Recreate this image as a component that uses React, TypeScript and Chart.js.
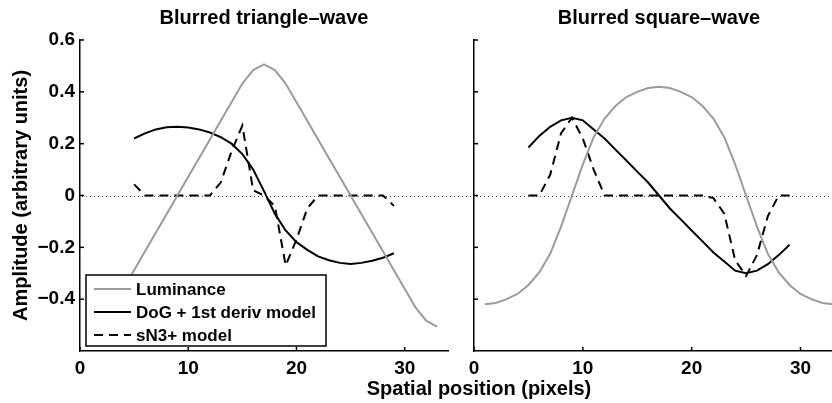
import React, { useEffect, useRef } from 'react';
import { Chart, registerables } from 'chart.js';

Chart.register(...registerables);

// ---------- data ----------
const lumPositions = [1, 2, 3, 4, 5, 6, 7, 8, 9, 10, 11, 12, 13, 14, 15, 16, 17, 18, 19, 20, 21, 22, 23, 24, 25, 26, 27, 28, 29, 30, 31, 32, 33];
const modelPositions = [5, 6, 7, 8, 9, 10, 11, 12, 13, 14, 15, 16, 17, 18, 19, 20, 21, 22, 23, 24, 25, 26, 27, 28, 29];

const triLuminance = [-0.506, -0.484, -0.432, -0.36, -0.288, -0.216, -0.144, -0.072, 0, 0.072, 0.144, 0.216, 0.288, 0.36, 0.432, 0.484, 0.506, 0.484, 0.432, 0.36, 0.288, 0.216, 0.144, 0.072, 0, -0.072, -0.144, -0.216, -0.288, -0.36, -0.432, -0.484, -0.506];
const triDoG = [0.22, 0.24, 0.255, 0.263, 0.265, 0.262, 0.255, 0.243, 0.225, 0.2, 0.16, 0.1, 0.017, -0.07, -0.135, -0.18, -0.21, -0.235, -0.25, -0.26, -0.264, -0.26, -0.252, -0.24, -0.223];
const triSN3 = [0.043, 0, 0, 0, 0, 0, 0, 0, 0.05, 0.17, 0.27, 0.02, 0, -0.04, -0.27, -0.17, -0.05, 0, 0, 0, 0, 0, 0, 0, -0.04];

const sqLuminance = [-0.42, -0.415, -0.4, -0.38, -0.345, -0.297, -0.225, -0.12, 0, 0.12, 0.225, 0.297, 0.345, 0.38, 0.4, 0.415, 0.42, 0.415, 0.4, 0.38, 0.345, 0.297, 0.225, 0.12, 0, -0.12, -0.225, -0.297, -0.345, -0.38, -0.4, -0.415, -0.42];
const sqDoG = [0.185, 0.23, 0.265, 0.29, 0.3, 0.29, 0.255, 0.22, 0.177, 0.135, 0.092, 0.05, 0, -0.05, -0.092, -0.135, -0.177, -0.22, -0.255, -0.29, -0.3, -0.29, -0.265, -0.23, -0.19];
const sqSN3 = [0, 0, 0.08, 0.24, 0.3, 0.22, 0.1, 0, 0, 0, 0, 0, 0, 0, 0, 0, 0, -0.01, -0.07, -0.25, -0.31, -0.23, -0.08, 0, 0];

const xTickValues = [0, 10, 20, 30];
const yTickValues = [-0.4, -0.2, 0, 0.2, 0.4, 0.6];
const seriesLabels = ['Luminance', 'DoG + 1st deriv model', 'sN3+ model'];
const panelTitles = ['Blurred triangle\u2013wave', 'Blurred square\u2013wave'];
const xAxisTitle = 'Spatial position (pixels)';
const yAxisTitle = 'Amplitude (arbitrary units)';

// ---------- styles ----------
const FONT = '"Liberation Sans", Arial, Helvetica, sans-serif';
const GRAY = '#9b9b9b';
const DASH = [9, 6];

const pts = (xs: number[], ys: number[]) => xs.map((x, i) => ({ x, y: ys[i] }));

function makeDatasets(lum: number[], dog: number[], sn3: number[]) {
  return [
    { label: seriesLabels[0], data: pts(lumPositions, lum), borderColor: GRAY, borderWidth: 2, pointRadius: 0, tension: 0, fill: false },
    { label: seriesLabels[1], data: pts(modelPositions, dog), borderColor: '#000', borderWidth: 2, pointRadius: 0, tension: 0, fill: false },
    { label: seriesLabels[2], data: pts(modelPositions, sn3), borderColor: '#000', borderWidth: 2, borderDash: DASH, pointRadius: 0, tension: 0, fill: false },
  ];
}

const fmt = (v: any) => {
  const n = Math.round(Number(v) * 10) / 10;
  return n < 0 ? '\u2212' + String(Math.abs(n)) : String(n);
};

function panelPlugin(opts: { title: string; zeroRight: number; legend: boolean; axisTitles: boolean }) {
  return {
    id: 'panelDecor',
    beforeDatasetsDraw(chart: any) {
      const { ctx, chartArea } = chart;
      const y0 = Math.round(chart.scales.y.getPixelForValue(0)) + 0.5;
      ctx.save();
      ctx.strokeStyle = '#444';
      ctx.lineWidth = 1;
      ctx.setLineDash([1, 3]);
      ctx.beginPath();
      ctx.moveTo(chartArea.left + 2, y0);
      ctx.lineTo(opts.zeroRight, y0);
      ctx.stroke();
      ctx.restore();
    },
    afterDatasetsDraw(chart: any) {
      if (!opts.legend) return;
      const { ctx } = chart;
      ctx.save();
      const bx = 86, by = 275, bw = 240, bh = 71;
      ctx.fillStyle = '#fff';
      ctx.fillRect(bx, by, bw, bh);
      ctx.strokeStyle = '#000';
      ctx.lineWidth = 1.5;
      ctx.strokeRect(bx, by, bw, bh);
      ctx.font = `bold 17px ${FONT}`;
      ctx.textBaseline = 'middle';
      ctx.textAlign = 'left';
      chart.data.datasets.forEach((ds: any, i: number) => {
        const yy = by + 14 + i * 23;
        ctx.strokeStyle = ds.borderColor;
        ctx.lineWidth = 2;
        ctx.setLineDash(ds.borderDash || []);
        ctx.beginPath();
        ctx.moveTo(bx + 8, yy);
        ctx.lineTo(bx + 45, yy);
        ctx.stroke();
        ctx.setLineDash([]);
        ctx.fillStyle = '#000';
        ctx.fillText(ds.label, bx + 50, yy + 1);
      });
      ctx.restore();
    },
    afterDraw(chart: any) {
      const { ctx, chartArea } = chart;
      const xs = chart.scales.x, ys = chart.scales.y;
      ctx.save();
      ctx.strokeStyle = '#000';
      ctx.lineWidth = 1.5;
      ys.ticks.forEach((t: any) => {
        const py = ys.getPixelForValue(t.value);
        ctx.beginPath();
        ctx.moveTo(chartArea.left, py);
        ctx.lineTo(chartArea.left + 4, py);
        ctx.stroke();
      });
      xs.ticks.forEach((t: any) => {
        const px = xs.getPixelForValue(t.value);
        ctx.beginPath();
        ctx.moveTo(px, chartArea.bottom);
        ctx.lineTo(px, chartArea.bottom - 4);
        ctx.stroke();
      });
      ctx.fillStyle = '#000';
      ctx.font = `bold 20px ${FONT}`;
      ctx.textAlign = 'center';
      ctx.textBaseline = 'alphabetic';
      ctx.fillText(opts.title, (chartArea.left + chartArea.right) / 2, 24);
      if (opts.axisTitles) {
        ctx.fillText(xAxisTitle, 479, 395);
        ctx.save();
        ctx.translate(27, (chartArea.top + chartArea.bottom) / 2);
        ctx.rotate(-Math.PI / 2);
        ctx.fillText(yAxisTitle, 0, 0);
        ctx.restore();
      }
      ctx.restore();
    },
  };
}

function makeConfig(p: {
  lum: number[]; dog: number[]; sn3: number[]; title: string; yWidth: number; padRight: number;
  showYLabels: boolean; zeroRight: number; legend: boolean; axisTitles: boolean;
}): any {
  const tickFont = { family: FONT, size: 19, weight: 'bold' as const };
  return {
    type: 'line',
    data: { datasets: makeDatasets(p.lum, p.dog, p.sn3) },
    options: {
      responsive: false,
      animation: false,
      devicePixelRatio: 1,
      layout: { padding: { left: 0, top: 40, right: p.padRight, bottom: 0 } },
      plugins: { legend: { display: false }, tooltip: { enabled: false }, title: { display: false } },
      scales: {
        x: {
          type: 'linear',
          min: 0,
          max: 34,
          grid: { display: false, drawTicks: false },
          border: { display: true, color: '#000', width: 1.5 },
          afterBuildTicks: (s: any) => { s.ticks = xTickValues.map((v) => ({ value: v })); },
          afterFit: (s: any) => { s.height = 52; },
          ticks: { font: tickFont, color: '#000', padding: 6, maxRotation: 0, callback: fmt },
        },
        y: {
          type: 'linear',
          min: -0.6,
          max: 0.6,
          grid: { display: false, drawTicks: false },
          border: { display: true, color: '#000', width: 1.5 },
          afterBuildTicks: (s: any) => { s.ticks = yTickValues.map((v) => ({ value: v })); },
          afterFit: (s: any) => { s.width = p.yWidth; },
          ticks: { display: p.showYLabels, font: tickFont, color: '#000', padding: 5, callback: fmt },
        },
      },
    },
    plugins: [panelPlugin({ title: p.title, zeroRight: p.zeroRight, legend: p.legend, axisTitles: p.axisTitles })],
  };
}

export default function App() {
  const leftRef = useRef<HTMLCanvasElement>(null);
  const rightRef = useRef<HTMLCanvasElement>(null);

  useEffect(() => {
    const left = new Chart(leftRef.current as HTMLCanvasElement, makeConfig({
      lum: triLuminance, dog: triDoG, sn3: triSN3, title: panelTitles[0],
      yWidth: 80, padRight: 832 - 448, showYLabels: true, zeroRight: 474, legend: true, axisTitles: true,
    }));
    const right = new Chart(rightRef.current as HTMLCanvasElement, makeConfig({
      lum: sqLuminance, dog: sqDoG, sn3: sqSN3, title: panelTitles[1],
      yWidth: 474, padRight: 0, showYLabels: false, zeroRight: 844, legend: false, axisTitles: false,
    }));
    return () => {
      left.destroy();
      right.destroy();
    };
  }, []);

  return (
    <div style={{ position: 'absolute', left: 0, top: 0, width: 832, height: 403, overflow: 'hidden', background: '#fff' }}>
      <canvas ref={leftRef} width={832} height={403} style={{ position: 'absolute', left: 0, top: 0 }} />
      <canvas ref={rightRef} width={844} height={403} style={{ position: 'absolute', left: 0, top: 0 }} />
    </div>
  );
}
